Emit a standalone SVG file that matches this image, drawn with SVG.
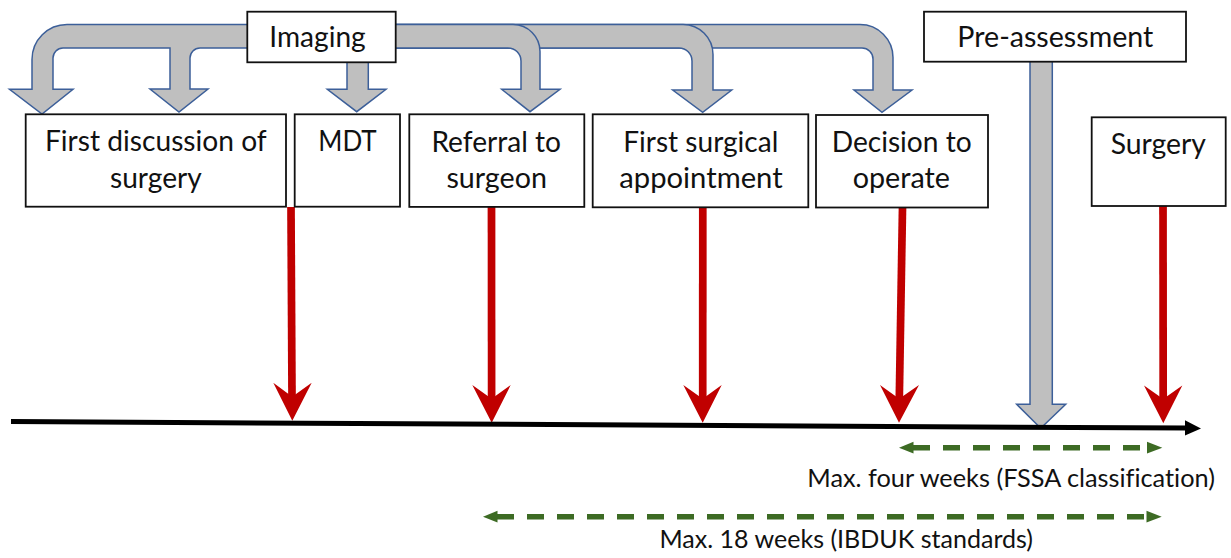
<svg xmlns="http://www.w3.org/2000/svg" width="1231" height="558" viewBox="0 0 1231 558">
<defs>
<style>
.box{fill:#fff;stroke:#111;stroke-width:1.8}
.lbl{font-family:Lato,"Liberation Sans",sans-serif;font-size:28px;fill:#111;font-variant-ligatures:none}
.note{font-family:Lato,"Liberation Sans",sans-serif;font-size:25px;fill:#111;font-variant-ligatures:none}
.gray{fill:#bfbfbf;stroke:#3c5f99;stroke-width:1.5;stroke-linejoin:miter}
.red{stroke:#c00000;stroke-width:7.7;fill:none}
.redhead{fill:#c00000}
.dash{stroke:#3d6b24;stroke-width:5.5;stroke-dasharray:17 13;fill:none}
.ghead{fill:#3d6b24}
</style>
</defs>
<rect width="1231" height="558" fill="#fff"/>
<g id="connectors">
<path class="gray" d="M250 24.5 L67 24.5 A35 35 0 0 0 32 59.5 L32 89.3 L9.5 89.3 L42 114 L73 89.3 L53 89.3 L53 58 A10 10 0 0 1 63 48 L170 48 L170 89 L150 89 L179 112 L208 89 L190 89 L190 58 A10 10 0 0 1 200 48 L250 48 Z"/>
<path class="gray" d="M347 55 L347 89.3 L327.3 89.3 L356.7 111.7 L386 89.3 L368.3 89.3 L368.3 55 Z"/>
<path class="gray" d="M390 24.5 L860 24.5 A33 33 0 0 1 893 57.5 L893 90 L912 90 L882 112.3 L854 90 L873 90 L873 59 A11 11 0 0 0 862 48 L390 48 Z"/>
<path class="gray" d="M390 24.5 L683 24.5 A30 30 0 0 1 713 54.5 L713 90 L731.7 90 L702.7 112.3 L672.7 90 L692 90 L692 61 A13 13 0 0 0 679 48 L390 48 Z"/>
<path class="gray" d="M390 24.5 L513 24.5 A27 27 0 0 1 540 51.5 L540 89.3 L560 89.3 L530 111.7 L501.7 89.3 L521 89.3 L521 61 A13 13 0 0 0 508 48 L390 48 Z"/>
<path class="gray" d="M1030 55 L1030 404.3 L1016.7 404.3 L1040.7 428.3 L1065.7 404.3 L1052.3 404.3 L1052.3 55 Z"/>
<line class="red" x1="291" y1="207" x2="292" y2="397"/>
<path class="redhead" d="M292.3 420.7 L273.3 382.7 L292.2 396.7 L311.7 382.7 Z"/>
<line class="red" x1="491.5" y1="207" x2="491.6" y2="399"/>
<path class="redhead" d="M491.7 422.7 L472.3 385 L491.6 398.7 L510.7 385 Z"/>
<line class="red" x1="702.8" y1="207" x2="702.7" y2="399"/>
<path class="redhead" d="M702.7 422.7 L683.3 385 L702.7 398.7 L721.7 385 Z"/>
<line class="red" x1="902.5" y1="208" x2="899.3" y2="399"/>
<path class="redhead" d="M899 422.7 L880 385 L899.2 398.7 L919 385 Z"/>
<line class="red" x1="1163" y1="206" x2="1163.2" y2="399"/>
<path class="redhead" d="M1163.3 423.3 L1144 385.5 L1163.2 399 L1182.3 385.5 Z"/>
<line x1="11" y1="421.6" x2="1187" y2="428.1" stroke="#000" stroke-width="5"/>
<path d="M1201 428.4 L1185 420.3 L1185 435.5 Z" fill="#000"/>
<line class="dash" x1="913" y1="447.7" x2="1147" y2="447.7"/>
<path class="ghead" d="M899 447.7 L913.5 441.8 L913.5 453.6 Z"/>
<path class="ghead" d="M1162.3 447.7 L1147 441.8 L1147 453.6 Z"/>
<line class="dash" x1="497" y1="516.7" x2="1147" y2="516.7"/>
<path class="ghead" d="M483 516.7 L497.5 510.8 L497.5 522.6 Z"/>
<path class="ghead" d="M1161.7 516.7 L1146.5 510.8 L1146.5 522.6 Z"/>
</g>
<g id="imaging">
<rect class="box" x="247.3" y="11.7" width="148.4" height="50.6"/>
<text class="lbl" x="269.3" y="46.5" textLength="96.4" lengthAdjust="spacingAndGlyphs">Imaging</text>
</g>
<g id="pre-assessment">
<rect class="box" x="924" y="11.7" width="262" height="50"/>
<text class="lbl" x="957.3" y="46.5" textLength="196" lengthAdjust="spacingAndGlyphs">Pre-assessment</text>
</g>
<g id="first-discussion">
<rect class="box" x="25.7" y="114.3" width="260.3" height="92.4"/>
<text class="lbl" x="45" y="151" textLength="221.7" lengthAdjust="spacingAndGlyphs">First discussion of</text>
<text class="lbl" x="110" y="188" textLength="91.7" lengthAdjust="spacingAndGlyphs">surgery</text>
</g>
<g id="mdt">
<rect class="box" x="294.7" y="114.3" width="105.3" height="92.4"/>
<text class="lbl" x="318.3" y="151" textLength="58.4" lengthAdjust="spacingAndGlyphs">MDT</text>
</g>
<g id="referral">
<rect class="box" x="409.3" y="114.3" width="175" height="92.6"/>
<text class="lbl" x="431.4" y="151.5" textLength="129.6" lengthAdjust="spacingAndGlyphs">Referral to</text>
<text class="lbl" x="446.4" y="188" textLength="100.5" lengthAdjust="spacingAndGlyphs">surgeon</text>
</g>
<g id="first-surgical">
<rect class="box" x="592.7" y="114.3" width="215.6" height="93"/>
<text class="lbl" x="623.3" y="151.5" textLength="155" lengthAdjust="spacingAndGlyphs">First surgical</text>
<text class="lbl" x="619.3" y="188" textLength="163.4" lengthAdjust="spacingAndGlyphs">appointment</text>
</g>
<g id="decision">
<rect class="box" x="816" y="115" width="172" height="92.5"/>
<text class="lbl" x="831.7" y="151.5" textLength="140" lengthAdjust="spacingAndGlyphs">Decision to</text>
<text class="lbl" x="852.7" y="188" textLength="97.3" lengthAdjust="spacingAndGlyphs">operate</text>
</g>
<g id="surgery">
<rect class="box" x="1091.7" y="117.3" width="134" height="88.7"/>
<text class="lbl" x="1110.7" y="153.5" textLength="95.3" lengthAdjust="spacingAndGlyphs">Surgery</text>
</g>
<g id="labels">
<text class="note" x="807.3" y="487" textLength="407.7" lengthAdjust="spacingAndGlyphs">Max. four weeks (FSSA classification)</text>
<text class="note" x="659.5" y="548" textLength="373.5" lengthAdjust="spacingAndGlyphs">Max. 18 weeks (IBDUK standards)</text>
</g>
</svg>
